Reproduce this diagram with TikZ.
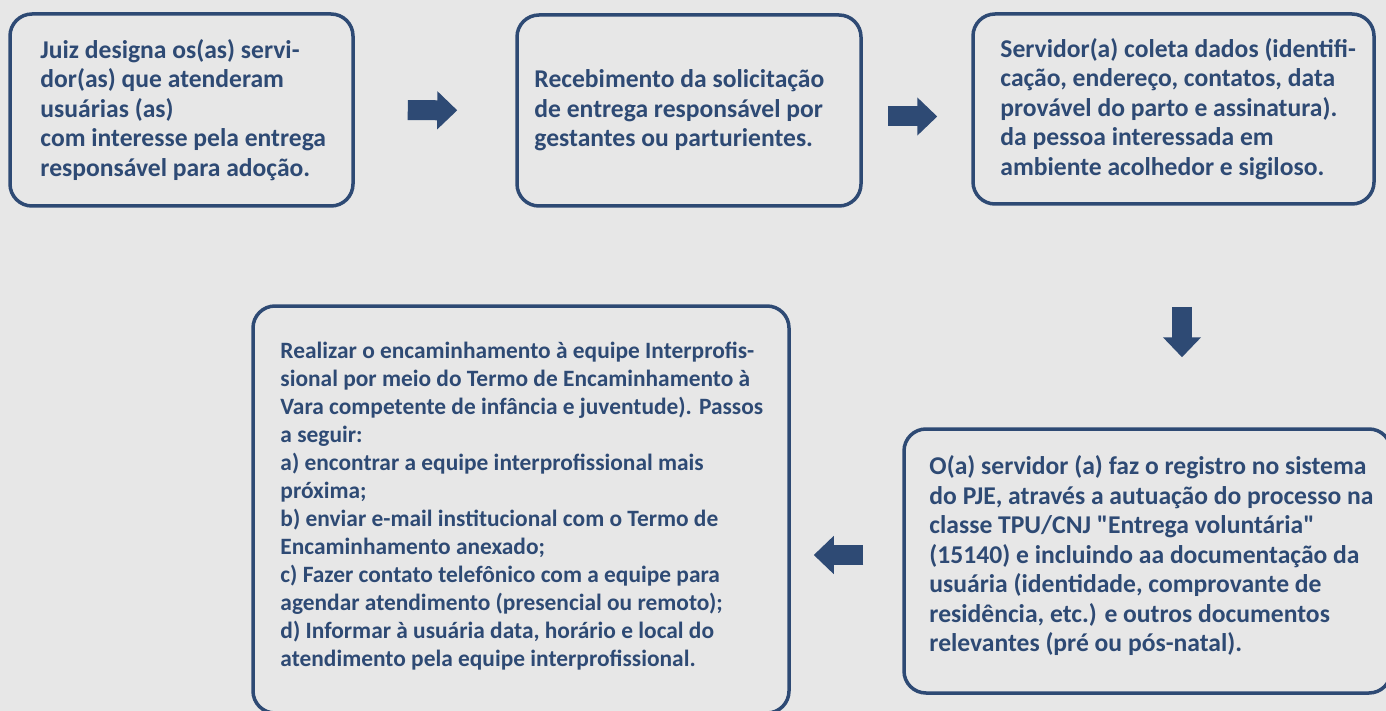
\documentclass[tikz,border=0pt]{standalone}
\usepackage{fontspec}
\setmainfont{Carlito}
\usepackage{xcolor}
\usetikzlibrary{arrows.meta, positioning}

\definecolor{navy}{HTML}{2E4A74}
\definecolor{paper}{HTML}{E7E7E7}

\begin{document}
\begin{tikzpicture}[
    x=1pt, y=-1pt,
    stepbox/.style={draw=navy, line width=3.5pt, rounded corners=22pt, inner sep=0pt},
    txt/.style={align=left, text=navy, inner sep=0pt, font=\bfseries\fontsize{25.6}{29.5}\selectfont},
    smalltxt/.style={txt, font=\bfseries\fontsize{23.4}{28}\selectfont},
    blk/.style={navy, line width=20pt, -{Triangle[length=20pt, width=37pt]}}
]
    \fill[paper] (0,0) rectangle (1386,711);
    \useasboundingbox (0,0) rectangle (1386,711);
    \clip (0,0) rectangle (1386,711);

    % boxes
    \node[stepbox, minimum width=343pt, minimum height=192pt] (juiz) at (181.5,110) {};
    \node[stepbox, minimum width=344pt, minimum height=191pt] (receb) at (689,110.5) {};
    \node[stepbox, minimum width=401pt, minimum height=190pt] (coleta) at (1173.5,109) {};
    \node[stepbox, minimum width=487pt, minimum height=264pt] (registro) at (1147.5,561) {};
    \node[stepbox, minimum width=536pt, minimum height=407pt] (encam) at (521,509.5) {};

    % texts
    \node[txt, right=32pt of juiz.west] (juiztxt) {Juiz designa os(as) servi-\\dor(as) que atenderam\\usuárias (as)\\com interesse pela entrega\\responsável para adoção.};
    \node[txt, right=19pt of receb.west] (recebtxt) {Recebimento da solicitação\\de entrega responsável por\\gestantes ou parturientes.};
    \node[txt, right=29pt of coleta.west] (coletatxt) {Servidor(a) coleta dados (identifi-\\cação, endereço, contatos, data\\provável do parto e assinatura).\\da pessoa interessada em\\ambiente acolhedor e sigiloso.};
    \node[txt, right=27pt of registro.west, yshift=5pt] (registrotxt) {O(a) servidor (a) faz o registro no sistema\\do PJE, através a autuação do processo na\\classe TPU/CNJ \textquotedbl Entrega voluntária\textquotedbl\\(15140) e incluindo aa documentação da\\usuária (identidade, comprovante de\\residência, etc.) e outros documentos\\relevantes (pré ou pós-natal).};
    \node[smalltxt, right=29pt of encam.west, yshift=3pt] (encamtxt) {Realizar o encaminhamento à equipe Interprofis-\\sional por meio do Termo de Encaminhamento à\\Vara competente de infância e juventude). Passos\\a seguir:\\a) encontrar a equipe interprofissional mais\\próxima;\\b) enviar e-mail institucional com o Termo de\\Encaminhamento anexado;\\c) Fazer contato telefônico com a equipe para\\agendar atendimento (presencial ou remoto);\\d) Informar à usuária data, horário e local do\\atendimento pela equipe interprofissional.};

    % arrows
    \draw[blk, shorten <=53pt, shorten >=58pt] (juiz.east) -- (receb.west);
    \draw[blk, shorten <=25pt, shorten >=34pt] ([yshift=-6pt]receb.east) -- ([yshift=-6pt]receb.east -| coleta.west);
    \draw[blk, shorten <=101pt, shorten >=70pt] ([xshift=8.5pt]coleta.south) -- ([xshift=8.5pt]coleta.south |- registro.north);
    \draw[blk, shorten <=39pt, shorten >=23pt] ([yshift=6pt]registro.west) -- ([yshift=6pt]registro.west -| encam.east);
\end{tikzpicture}
\end{document}
